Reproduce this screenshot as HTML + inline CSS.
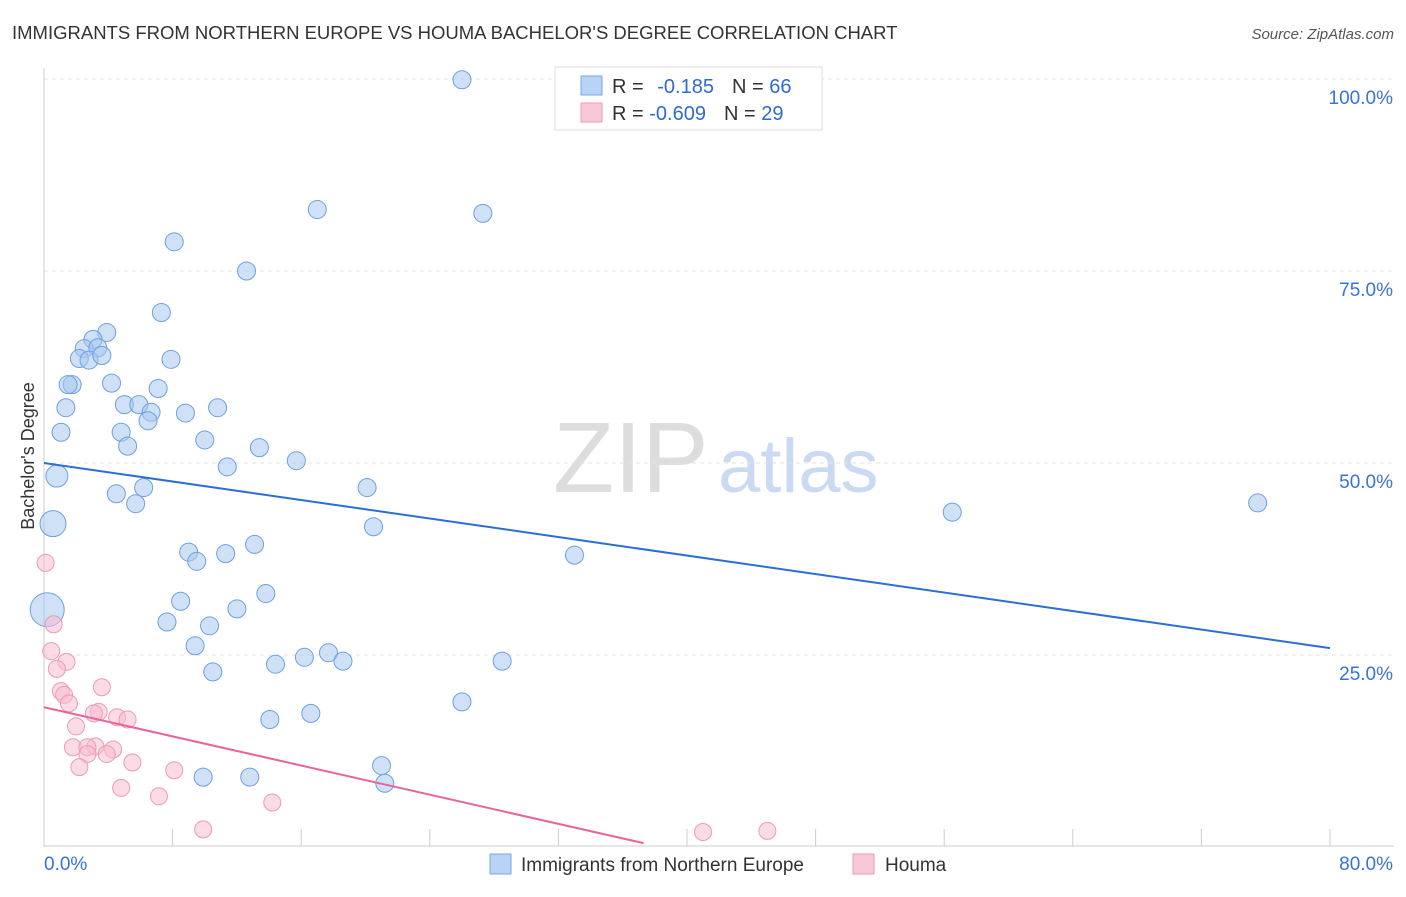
<!DOCTYPE html>
<html><head><meta charset="utf-8"><style>
body{margin:0;background:#fff;font-family:"Liberation Sans",sans-serif}
svg text{font-family:"Liberation Sans",sans-serif}
</style></head><body>
<svg id="c" width="1406" height="892" xmlns="http://www.w3.org/2000/svg">
<text x="12" y="39" font-size="18.5" fill="#333">IMMIGRANTS FROM NORTHERN EUROPE VS HOUMA BACHELOR'S DEGREE CORRELATION CHART</text>
<text x="1394" y="39" font-size="15" fill="#555" text-anchor="end" font-style="italic">Source: ZipAtlas.com</text>
<text x="34" y="456" font-size="18" fill="#333" text-anchor="middle" transform="rotate(-90 34 456)">Bachelor's Degree</text>
<text x="553" y="492" font-size="100" fill="#ddd" font-family="Liberation Serif">ZIP</text>
<text x="718" y="492" font-size="76" fill="#c9daf2">atlas</text>
<g id="grid"></g><g id="pts"></g><g id="lines"></g>
<g>
<rect x="555" y="67" width="267" height="63" fill="#fff" stroke="#ddd"/>
<rect x="581" y="76" width="21" height="19" fill="#b8d3f5" stroke="#7aa7e0"/>
<rect x="581" y="103" width="21" height="19" fill="#f9c8d6" stroke="#ee9ab5"/>
<text x="612" y="93" font-size="20" fill="#333">R = <tspan fill="#2f6ad0" dx="8">-0.185</tspan><tspan dx="18" fill="#333">N = </tspan><tspan fill="#2f6ad0">66</tspan></text>
<text x="612" y="120" font-size="20" fill="#333">R = <tspan fill="#2f6ad0">-0.609</tspan><tspan dx="18" fill="#333">N = </tspan><tspan fill="#2f6ad0">29</tspan></text>
</g>
<g>
<rect x="490" y="854" width="21" height="20" fill="#b8d3f5" stroke="#7aa7e0"/>
<text x="521" y="871" font-size="19" fill="#333">Immigrants from Northern Europe</text>
<rect x="853" y="854" width="21" height="20" fill="#f9c8d6" stroke="#ee9ab5"/>
<text x="885" y="871" font-size="19" fill="#333">Houma</text>
</g>
</svg>
<script>
const blueX=[26,17,27.3,8.1,12.6,7.3,3.9,3.05,2.5,3.35,2.2,2.8,3.6,7.9,1.75,1.5,4.2,7.1,1.36,5,5.9,6.66,6.47,8.8,10.8,1.06,4.8,5.2,10,13.4,15.7,11.4,0.8,4.5,6.2,5.7,20.1,56.5,75.5,0.56,20.5,9,9.5,11.3,13.1,33,0.2,8.5,13.8,12,7.65,10.3,9.4,14.4,16.2,17.7,18.6,28.5,10.5,26,14.05,16.6,21,9.9,12.8,21.2];
const blueY=[99.9,83,82.5,78.8,75,69.6,67,66.1,64.9,65,63.6,63.4,64,63.5,60.2,60.2,60.4,59.7,57.2,57.6,57.6,56.6,55.5,56.5,57.2,54,54,52.2,53,52,50.3,49.5,48.3,46,46.8,44.7,46.8,43.6,44.8,42.1,41.7,38.4,37.2,38.2,39.4,38,30.9,32,33,31,29.3,28.8,26.2,23.8,24.7,25.3,24.2,24.2,22.8,18.9,16.6,17.4,10.6,9.1,9.1,8.3];
const blueR=[9,9,9,9,9,9,9,9,9,9,9,9,9,9,9,9,9,9,9,9,9,9,9,9,9,9,9,9,9,9,9,9,11,9,9,9,9,9,9,13,9,9,9,9,9,9,17,9,9,9,9,9,9,9,9,9,9,9,9,9,9,9,9,9,9,9];
const pinkX=[0.1,0.6,0.45,1.4,0.8,1.05,1.25,3.6,1.55,3.4,3.1,4.55,5.2,1.99,1.8,3.2,2.7,4.3,2.7,3.9,5.5,2.2,8.1,4.8,7.15,14.2,9.9,41,45];
const pinkY=[37,29,25.5,24.1,23.2,20.3,19.8,20.8,18.7,17.6,17.4,16.9,16.6,15.7,12.99,13.1,12.99,12.7,12.1,12.1,11,10.4,10,7.7,6.6,5.8,2.3,1.95,2.1];
const blueTrend=[50.0,25.9];
const pinkTrend=[18.2,0.5];
const pinkEnd=37.3;
const yTicks=[25,50,75,100];
const xTickLabels=["0.0%","80.0%"];
const X=v=>44+v*16.075, Y=v=>847-v*7.68;
const ns="http://www.w3.org/2000/svg";
function mk(t,a,p){const e=document.createElementNS(ns,t);for(const k in a)e.setAttribute(k,a[k]);p.appendChild(e);return e;}
const grid=document.getElementById('grid'),pts=document.getElementById('pts'),lines=document.getElementById('lines');
yTicks.forEach(v=>{
 const l=mk('line',{x1:44,x2:1394,y1:Y(v),y2:Y(v),stroke:'#e2e2e2','stroke-dasharray':'4,4'},grid);
 
 
 const t=mk('text',{x:1393,y:Y(v)+25,'font-size':19,fill:'#3a72d8','text-anchor':'end'},grid);t.textContent=v.toFixed(1)+'%';
 
 
});
const ax=mk('line',{x1:44,x2:44,y1:68,y2:847,stroke:'#ccc'},grid);


const bx=mk('line',{x1:44,x2:1394,y1:846,y2:846,stroke:'#ccc'},grid);


for(let i=0;i<=10;i++){const t=mk('line',{x1:X(i*8),x2:X(i*8),y1:829,y2:846,stroke:'#ccc'},grid);
 
 }
[[0,'start',44],[80,'end',1393]].forEach((d,i)=>{const t=mk('text',{x:d[2],y:870,'font-size':19,fill:'#3a72d8','text-anchor':d[1]},grid);t.textContent=xTickLabels[i];
 
 });
blueX.forEach((x,i)=>{const c=mk('circle',{cx:X(x),cy:Y(blueY[i]),r:blueR[i],fill:'rgba(168,200,240,0.55)',stroke:'#6f9fe0','stroke-width':1},pts);
 
 });
pinkX.forEach((x,i)=>{const c=mk('circle',{cx:X(x),cy:Y(pinkY[i]),r:8.5,fill:'rgba(248,190,208,0.55)',stroke:'#ee9ab5','stroke-width':1},pts);
 
 });
const bl=mk('line',{x1:X(0),y1:Y(blueTrend[0]),x2:X(80),y2:Y(blueTrend[1]),stroke:'#2a6fd6','stroke-width':2},lines);


const pl=mk('line',{x1:X(0),y1:Y(pinkTrend[0]),x2:X(pinkEnd),y2:Y(pinkTrend[1]),stroke:'#e8649a','stroke-width':2},lines);


</script>
</body></html>
